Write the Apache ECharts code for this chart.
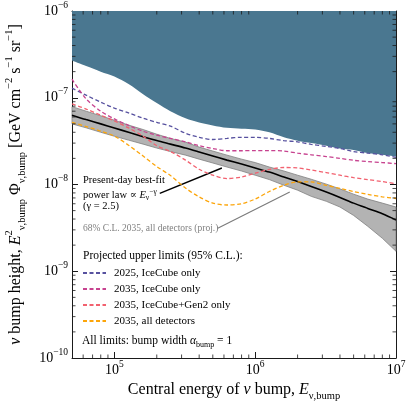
<!DOCTYPE html>
<html>
<head>
<meta charset="utf-8">
<script src="https://cdn.jsdelivr.net/npm/echarts@6/dist/echarts.min.js"></script>
<style>
  html, body { margin: 0; padding: 0; background: #fff; }
  #chart { width: 413px; height: 405px; }
</style>
</head>
<body>
<div id="chart"></div>
<script>
// central energy of the bump [GeV]
const energy = [5e4, 6.3e4, 8e4, 1e5, 1.26e5, 1.6e5, 2e5, 2.5e5, 3.2e5, 4e5, 5e5, 6.3e5,
  8e5, 1e6, 1.26e6, 1.6e6, 2e6, 2.5e6, 3.2e6, 4e6, 5e6, 6.3e6, 8e6, 1e7]

// IceCube HESE 7.5 yr excluded region (lower edge)
const hese = [2.69e-7, 2.32e-7, 2.0e-7, 1.76e-7, 1.44e-7, 1.10e-7, 8.7e-8, 7.0e-8, 5.8e-8, 5.2e-8, 4.8e-8, 4.5e-8,
  4.4e-8, 4.3e-8, 4.0e-8, 3.5e-8, 3.2e-8, 3.0e-8, 2.8e-8, 2.6e-8, 2.5e-8, 2.3e-8, 2.2e-8, 2.1e-8]

// projected upper limits
const ic2025 = [1.29e-7, 1.07e-7, 8.9e-8, 7.6e-8, 6.7e-8, 5.8e-8, 5.2e-8, 4.7e-8, 3.9e-8, 3.5e-8, 3.3e-8, 3.4e-8,
  3.5e-8, 3.5e-8, 3.4e-8, 3.2e-8, 3.1e-8, 2.9e-8, 2.75e-8, 2.6e-8, 2.4e-8, 2.3e-8, 2.2e-8, 2.05e-8]
const ic2035 = [1.64e-7, 9.7e-8, 7.0e-8, 5.7e-8, 4.8e-8, 4.1e-8, 3.7e-8, 3.4e-8, 3.1e-8, 2.8e-8, 2.6e-8, 2.45e-8,
  2.45e-8, 2.46e-8, 2.46e-8, 2.43e-8, 2.3e-8, 2.2e-8, 2.1e-8, 2.0e-8, 1.9e-8, 1.84e-8, 1.79e-8, 1.74e-8]
const gen2 = [8.5e-8, 7.4e-8, 6.3e-8, 5.4e-8, 4.5e-8, 3.6e-8, 2.8e-8, 2.4e-8, 1.91e-8, 1.5e-8, 1.28e-8, 1.17e-8,
  1.22e-8, 1.35e-8, 1.49e-8, 1.57e-8, 1.55e-8, 1.47e-8, 1.37e-8, 1.28e-8, 1.2e-8, 1.14e-8, 1.08e-8, 1.02e-8]
const allDet = [5.2e-8, 4.66e-8, 4.13e-8, 3.61e-8, 2.84e-8, 2.13e-8, 1.61e-8, 1.27e-8, 9.1e-9, 7.2e-9, 6.1e-9, 5.8e-9,
  6.0e-9, 6.8e-9, 8.3e-9, 9.8e-9, 1.07e-8, 1.07e-8, 9.8e-9, 9.0e-9, 8.3e-9, 7.7e-9, 7.2e-9, 6.9e-9]

// present-day best fit and 68% C.L. band (2035, all detectors)
const bestFit = [6.3e-8, 5.6e-8, 5.0e-8, 4.48e-8, 4.0e-8, 3.56e-8, 3.21e-8, 2.92e-8, 2.63e-8, 2.37e-8, 2.13e-8, 1.91e-8,
  1.72e-8, 1.55e-8, 1.39e-8, 1.22e-8, 1.08e-8, 9.5e-9, 8.2e-9, 7.1e-9, 6.1e-9, 5.3e-9, 4.6e-9, 3.9e-9]
const bandHi = [7.9e-8, 7.0e-8, 6.2e-8, 5.5e-8, 4.84e-8, 4.3e-8, 3.8e-8, 3.4e-8, 3.08e-8, 2.7e-8, 2.43e-8, 2.18e-8,
  1.96e-8, 1.79e-8, 1.59e-8, 1.43e-8, 1.28e-8, 1.15e-8, 1.01e-8, 8.9e-9, 7.74e-9, 6.79e-9, 6.1e-9, 5.5e-9]
const bandLo = [5.0e-8, 4.5e-8, 4.0e-8, 3.6e-8, 3.25e-8, 2.92e-8, 2.63e-8, 2.4e-8, 2.18e-8, 1.96e-8, 1.77e-8, 1.59e-8,
  1.43e-8, 1.28e-8, 1.14e-8, 9.8e-9, 8.6e-9, 7.3e-9, 6.4e-9, 5.5e-9, 4.4e-9, 3.3e-9, 2.4e-9, 1.7e-9]

const limitNames = ['2025, IceCube only', '2035, IceCube only', '2035, IceCube+Gen2 only', '2035, all detectors']

const X_MIN = 5e4, X_MAX = 1e7, Y_MIN = 1e-10, Y_MAX = 1e-6
const serif = '"Liberation Serif", "DejaVu Serif", serif'
const frame = '#1a1a1a'

// minor ticks 2..9 in each decade
const xMinor = [], yMinor = []
for (let p = 4; p < 7; p++) {
  for (let k = 2; k <= 9; k++) {
    const v = k * Math.pow(10, p)
    if (v > X_MIN && v < X_MAX) xMinor.push(v)
  }
}
for (let p = -10; p < -6; p++) {
  for (let k = 2; k <= 9; k++) yMinor.push(k * Math.pow(10, p))
}

const pairs = vals => energy.map((e, i) => [e, vals[i]])

function powLabel(v) {
  const n = Math.log10(v)
  const r = Math.round(n)
  if (Math.abs(n - r) > 1e-6) return ''
  return '{b|10}{s|' + (r < 0 ? '\u2212' + (-r) : r) + '}'
}

const labelRich = {
  b: { fontFamily: serif, fontSize: 14, color: '#000', lineHeight: 22 },
  s: { fontFamily: serif, fontSize: 9.5, color: '#000', verticalAlign: 'top', lineHeight: 10 }
}
const nameRich = {
  n: { fontFamily: serif, fontSize: 16, color: '#000', lineHeight: 24 },
  i: { fontFamily: serif, fontSize: 16, fontStyle: 'italic', color: '#000', lineHeight: 24 },
  sup: { fontFamily: serif, fontSize: 10.5, color: '#000', verticalAlign: 'top', lineHeight: 12 },
  sub: { fontFamily: serif, fontSize: 10.5, color: '#000', verticalAlign: 'bottom', lineHeight: 12 }
}
const smallRich = {
  n: { fontFamily: serif, fontSize: 10.5, color: '#000', lineHeight: 14 },
  i: { fontFamily: serif, fontSize: 10.5, fontStyle: 'italic', color: '#000', lineHeight: 14 },
  sup: { fontFamily: serif, fontSize: 7.5, color: '#000', verticalAlign: 'top', lineHeight: 8 },
  sub: { fontFamily: serif, fontSize: 7.5, color: '#000', verticalAlign: 'bottom', lineHeight: 8 }
}

function xAxisDef(pos) {
  const bottom = pos === 'bottom'
  return {
    type: 'log', logBase: 10, min: X_MIN, max: X_MAX, position: pos,
    axisLine: { show: true, onZero: false, lineStyle: { color: frame, width: 1 } },
    axisTick: { show: true, inside: true, length: 6, lineStyle: { color: frame, width: 1 } },
    axisLabel: { show: bottom, margin: 1, formatter: powLabel, rich: labelRich },
    splitLine: { show: false },
    name: bottom ? '{n|Central energy of }{i|\u03bd}{n| bump, }{i|E}{sub|\u03bd,bump}' : '',
    nameLocation: 'middle', nameGap: 16,
    nameTextStyle: { rich: nameRich }
  }
}
function yAxisDef(pos) {
  const left = pos === 'left'
  return {
    type: 'log', logBase: 10, min: Y_MIN, max: Y_MAX, position: pos,
    axisLine: { show: true, onZero: false, lineStyle: { color: frame, width: 1 } },
    axisTick: { show: true, inside: true, length: 6, lineStyle: { color: frame, width: 1 } },
    axisLabel: { show: left, margin: 4, formatter: powLabel, rich: labelRich },
    splitLine: { show: false },
    name: left ? '{i|\u03bd}{n| bump height, }{i|E}{sup|2}{sub|\u03bd,bump}{n| }{n|\u03a6}{sub|\u03bd,bump}{n| [GeV cm}{sup|\u22122}{n| s}{sup|\u22121}{n| sr}{sup|\u22121}{n|]}' : '',
    nameLocation: 'middle', nameGap: 41,
    nameTextStyle: { rich: nameRich }
  }
}

function dashed(name, vals, color) {
  return {
    type: 'line', name, data: pairs(vals), symbol: 'none', smooth: 0.3, z: 6,
    itemStyle: { color },
    lineStyle: { color, width: 1.3, type: [4, 2.5] }
  }
}

const chart = echarts.init(document.getElementById('chart'))

chart.setOption({
  animation: false,
  backgroundColor: '#fff',
  grid: { left: 72, right: 17, top: 11, bottom: 47, outerBoundsMode: 'none', containLabel: false },
  xAxis: [xAxisDef('bottom'), xAxisDef('top')],
  yAxis: [yAxisDef('left'), yAxisDef('right')],
  legend: {
    data: limitNames, orient: 'vertical', left: 82, top: 267, padding: 0,
    itemWidth: 23, itemHeight: 12, itemGap: 4, selectedMode: false,
    itemStyle: { opacity: 0 },
    textStyle: { fontFamily: serif, fontSize: 11, color: '#000', lineHeight: 12, padding: [0, 0, 0, 3] }
  },
  series: [
    {
      type: 'line', name: 'IceCube HESE', data: pairs(hese), symbol: 'none', smooth: 0.3, z: 1, silent: true,
      lineStyle: { opacity: 0 },
      areaStyle: { origin: 'end', color: '#4a7790', opacity: 1 }
    },
    {
      type: 'custom', name: '68% band', z: 2, silent: true,
      data: [[X_MIN, Y_MIN]],
      renderItem: (params, api) => {
        const pts = energy.map((e, i) => api.coord([e, bandHi[i]]))
          .concat(energy.map((e, i) => api.coord([e, bandLo[i]])).reverse())
        return { type: 'polygon', shape: { points: pts }, style: { fill: '#b3b3b3', stroke: '#808080', lineWidth: 0.8 } }
      }
    },
    {
      type: 'line', name: 'best fit', data: pairs(bestFit), symbol: 'none', smooth: 0.3, z: 4,
      lineStyle: { color: '#000', width: 1.6 },
      markLine: {
        silent: true, symbol: ['none', 'arrow'], symbolSize: [0, 8], label: { show: false },
        data: [
          [{ coord: [2.1e5, 7.9e-9], lineStyle: { color: '#000', width: 1.4, type: 'solid' } },
           { coord: [5.8e5, 1.55e-8] }],
          [{ coord: [5.42e5, 3.14e-9], lineStyle: { color: '#7a7a7a', width: 1.1, type: 'solid' } },
           { coord: [1.76e6, 8.2e-9] }]
        ]
      }
    },
    dashed(limitNames[0], ic2025, '#57519f'),
    dashed(limitNames[1], ic2035, '#c7428f'),
    dashed(limitNames[2], gen2, '#f2616f'),
    dashed(limitNames[3], allDet, '#fca50a'),
    {
      type: 'custom', name: 'minor ticks', z: 10, silent: true,
      data: [[X_MIN, Y_MIN]],
      renderItem: (params, api) => {
        const children = []
        const st = { stroke: frame, lineWidth: 0.8 }
        xMinor.forEach(v => {
          const b = api.coord([v, Y_MIN]), t = api.coord([v, Y_MAX])
          children.push({ type: 'line', shape: { x1: b[0], y1: b[1], x2: b[0], y2: b[1] - 3.5 }, style: st })
          children.push({ type: 'line', shape: { x1: t[0], y1: t[1], x2: t[0], y2: t[1] + 3.5 }, style: st })
        })
        yMinor.forEach(v => {
          const l = api.coord([X_MIN, v]), r = api.coord([X_MAX, v])
          children.push({ type: 'line', shape: { x1: l[0], y1: l[1], x2: l[0] + 3.5, y2: l[1] }, style: st })
          children.push({ type: 'line', shape: { x1: r[0], y1: r[1], x2: r[0] - 3.5, y2: r[1] }, style: st })
        })
        return { type: 'group', children }
      }
    }
  ],
  graphic: [
    { type: 'text', left: 226, top: 14, silent: true,
      style: { text: 'IceCube HESE 7.5 yr (95% C.L.)', fill: '#fff', font: '12px ' + serif } },
    { type: 'text', left: 83, top: 175, silent: true,
      style: { text: '{n|Present-day best-fit}', rich: smallRich } },
    { type: 'text', left: 83, top: 188, silent: true,
      style: { text: '{n|power law \u221d }{i|E}{sub|\u03bd}{sup|\u2212\u03b3}', rich: smallRich } },
    { type: 'text', left: 83, top: 201, silent: true,
      style: { text: '{n|(\u03b3 = 2.5)}', rich: smallRich } },
    { type: 'text', left: 83, top: 223, silent: true,
      style: { text: '68% C.L. 2035, all detectors (proj.)', fill: '#808080', font: '9.5px ' + serif } },
    { type: 'text', left: 83, top: 250, silent: true,
      style: { text: 'Projected upper limits (95% C.L.):', fill: '#000', font: '11.5px ' + serif } },
    { type: 'text', left: 82, top: 335, silent: true,
      style: {
        text: '{n|All limits: bump width }{i|\u03b1}{sub|bump}{n| = 1}',
        rich: {
          n: { fontFamily: serif, fontSize: 11.5, color: '#000', lineHeight: 16 },
          i: { fontFamily: serif, fontSize: 11.5, fontStyle: 'italic', color: '#000', lineHeight: 16 },
          sub: { fontFamily: serif, fontSize: 8, color: '#000', verticalAlign: 'bottom', lineHeight: 10 }
        }
      } }
  ]
})
</script>
</body>
</html>
